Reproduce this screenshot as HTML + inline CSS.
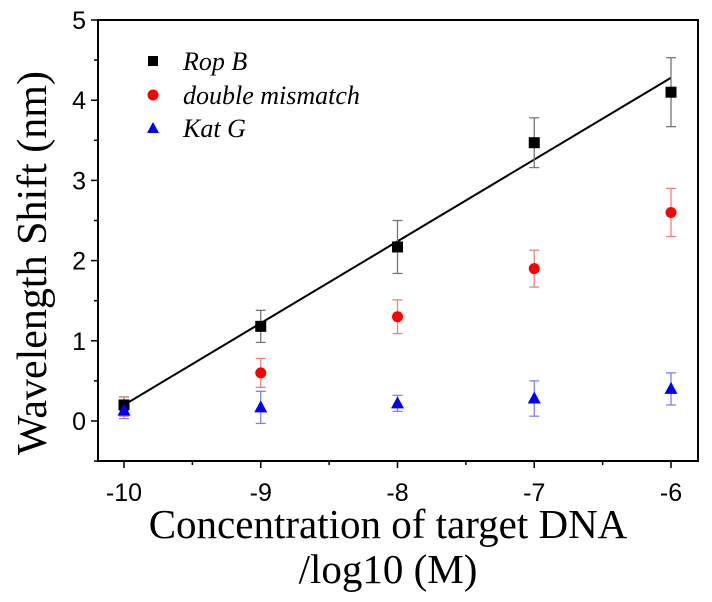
<!DOCTYPE html>
<html><head><meta charset="utf-8"><style>
html,body{margin:0;padding:0;background:#fff;}
svg{display:block;}
</style></head><body>
<svg id="chart" width="712" height="602" xmlns="http://www.w3.org/2000/svg">
<g id="axes"></g>
<g id="marks"></g>
<g>
<rect x="148" y="56" width="10" height="10" fill="#000"/>
<text x="183" y="70" font-family="Liberation Serif, serif" font-style="italic" font-size="26">Rop B</text>
<circle cx="153" cy="95" r="5.5" fill="#f00"/>
<text x="183" y="104" font-family="Liberation Serif, serif" font-style="italic" font-size="26">double mismatch</text>
<polygon points="153,122 159,133 147,133" fill="#00f"/>
<text x="183" y="137" font-family="Liberation Serif, serif" font-style="italic" font-size="26">Kat G</text>
</g>
<text x="0" y="0" transform="translate(46,263) rotate(-90)" text-anchor="middle" font-family="Liberation Serif, serif" font-size="42">Wavelength Shift (nm)</text>
<text x="388" y="538" text-anchor="middle" font-family="Liberation Serif, serif" font-size="41">Concentration of target DNA</text>
<text x="388" y="583" text-anchor="middle" font-family="Liberation Serif, serif" font-size="41">/log10 (M)</text>
</svg>
<script>
const xCategories = [-10, -9, -8, -7, -6];
const ropB = [0.2, 1.18, 2.17, 3.47, 4.1];
const ropBErr = [0.1, 0.2, 0.33, 0.31, 0.43];
const doubleMismatch = [0.18, 0.6, 1.3, 1.9, 2.6];
const doubleMismatchErr = [0.12, 0.18, 0.21, 0.23, 0.3];
const katG = [0.13, 0.17, 0.22, 0.28, 0.4];
const katGErr = [0.1, 0.2, 0.1, 0.22, 0.2];
const yTicks = [0, 1, 2, 3, 4, 5];
const xTicks = [-10, -9, -8, -7, -6];
const fitLine = [[-10, 0.2], [-6, 4.28]];

const L=98,R=698,T=20,B=461;
const xs=v=>124+(v+10)*136.75;
const ys=v=>421-v*80.2;
const NS='http://www.w3.org/2000/svg';
function mk(parent,tag,attrs){const e=document.createElementNS(NS,tag);for(const k in attrs)e.setAttribute(k,attrs[k]);parent.appendChild(e);return e;}
const ax=document.getElementById('axes');
const mg=document.getElementById('marks');
const frame=mk(ax,'rect',{x:L,y:T,width:R-L,height:B-T,fill:'none',stroke:'#000','stroke-width':2});


yTicks.forEach(v=>{
  const t=mk(ax,'line',{x1:L-7,x2:L,y1:ys(v),y2:ys(v),stroke:'#000','stroke-width':1.5});
  
  
  const m=mk(ax,'line',{x1:L-4,x2:L,y1:ys(v-0.5),y2:ys(v-0.5),stroke:'#000','stroke-width':1.5});
  
  
  const lb=mk(ax,'text',{x:L-12,y:ys(v)+9,'text-anchor':'end','font-family':'Liberation Sans, sans-serif','font-size':25});
  lb.textContent=v;
  
  
});
xTicks.forEach((v,i)=>{
  const t=mk(ax,'line',{x1:xs(v),x2:xs(v),y1:B,y2:B+7,stroke:'#000','stroke-width':1.5});
  
  
  if(i<xTicks.length-1){
    const m=mk(ax,'line',{x1:xs(v+0.5),x2:xs(v+0.5),y1:B,y2:B+4,stroke:'#000','stroke-width':1.5});
    
    
  }
  const lb=mk(ax,'text',{x:xs(v),y:B+40,'text-anchor':'middle','font-family':'Liberation Sans, sans-serif','font-size':25});
  lb.textContent=v;
  
  
});
const fl=mk(mg,'line',{x1:xs(fitLine[0][0]),y1:ys(fitLine[0][1]),x2:xs(fitLine[1][0]),y2:ys(fitLine[1][1]),stroke:'#000','stroke-width':2});


function errbar(x,v,e,col,name){
  const g=mk(mg,'g',{stroke:col,'stroke-width':1.3});
  
  
  const cx=xs(x);
  mk(g,'line',{x1:cx,x2:cx,y1:ys(v+e),y2:ys(v-e)});
  mk(g,'line',{x1:cx-5,x2:cx+5,y1:ys(v+e),y2:ys(v+e)});
  mk(g,'line',{x1:cx-5,x2:cx+5,y1:ys(v-e),y2:ys(v-e)});
}
xCategories.forEach((x,i)=>{
  errbar(x,ropB[i],ropBErr[i],'#777','rop-b-error-bar');
  errbar(x,doubleMismatch[i],doubleMismatchErr[i],'#f08080','double-mismatch-error-bar');
  errbar(x,katG[i],katGErr[i],'#8080f0','kat-g-error-bar');
});
xCategories.forEach((x,i)=>{
  const cx=xs(x);
  const c=mk(mg,'circle',{cx:cx,cy:ys(doubleMismatch[i]),r:5.5,fill:'#f00'});
  
  
  const s=mk(mg,'rect',{x:cx-5.5,y:ys(ropB[i])-5.5,width:11,height:11,fill:'#000'});
  
  
  const y=ys(katG[i]);
  const p=mk(mg,'polygon',{points:`${cx},${y-7} ${cx+6.5},${y+5} ${cx-6.5},${y+5}`,fill:'#00f'});
  
  
});
</script>
</body></html>
